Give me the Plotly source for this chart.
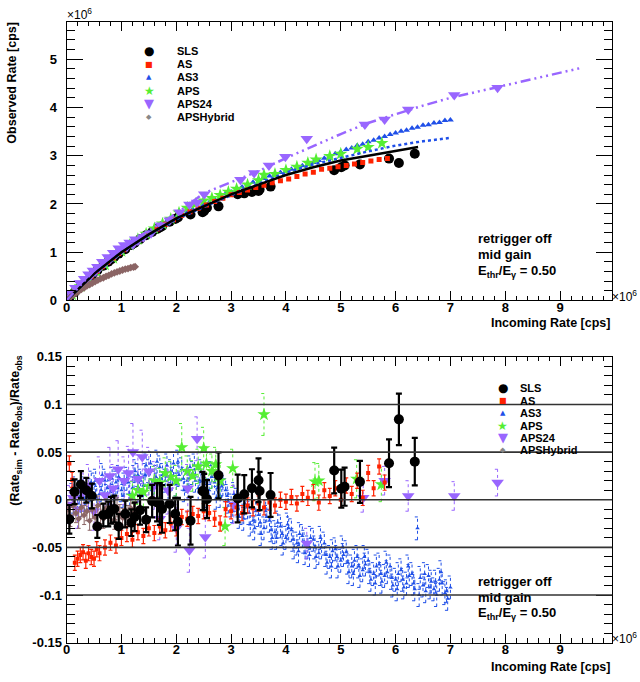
import plotly.graph_objects as go

# ---------------- data (rates in units of 1e6 cps) ----------------
# top panel: observed rate vs incoming rate
SLS_X = [0.05,0.145,0.26,0.36,0.46,0.56,0.67,0.76,0.81,0.87,0.95,1.07,1.18,1.24,1.34,1.45,1.56,1.65,1.70,1.74,
         1.88,1.98,2.03,2.26,2.48,2.51,2.56,2.77,3.12,3.24,3.38,3.50,3.52,3.72,4.88,5.01,5.07,5.35,5.88,6.06,6.35]
SLS_OBS = [0.06,0.17,0.30,0.41,0.51,0.62,0.72,0.80,0.85,0.90,0.97,1.06,1.15,1.19,1.27,1.35,1.42,1.48,1.51,1.54,
           1.63,1.69,1.72,1.78,1.83,1.86,1.92,1.95,2.20,2.22,2.25,2.27,2.30,2.36,2.70,2.76,2.80,2.82,2.94,2.85,3.04]

AS_X = [0.05,0.15,0.25,0.35,0.45,0.55,0.65,0.75,0.85,0.95,1.05,1.2,1.35,1.5,1.65,1.8,1.95,2.1,2.25,2.4,
        2.55,2.7,2.85,3.0,3.15,3.3,3.45,3.6,3.75,3.9,4.05,4.2,4.35,4.5,4.65,4.8,4.95,5.1,5.25,5.4,5.55,5.7,5.85]
AS_OBS = [0.06,0.18,0.29,0.40,0.50,0.60,0.70,0.79,0.88,0.97,1.05,1.16,1.28,1.38,1.48,1.58,1.67,1.76,1.84,1.91,
          1.98,2.05,2.12,2.19,2.24,2.29,2.34,2.39,2.44,2.48,2.52,2.57,2.62,2.66,2.72,2.74,2.77,2.80,2.83,2.86,2.89,2.92,2.94]

AS3_X = [0.1,0.2,0.3,0.4,0.5,0.6,0.7,0.8,0.9,1.0,1.1,1.2,1.3,1.4,1.5,1.6,1.7,1.8,1.9,2.0,
         2.1,2.2,2.3,2.4,2.5,2.6,2.7,2.8,2.9,3.0,3.1,3.2,3.3,3.4,3.5,3.6,3.7,3.8,3.9,4.0,
         4.1,4.2,4.3,4.4,4.5,4.6,4.7,4.8,4.9,5.0,5.1,5.2,5.3,5.4,5.5,5.6,5.7,5.8,5.9,6.0,
         6.1,6.2,6.3,6.4,6.5,6.6,6.7,6.8,6.9,7.0]
AS3_OBS = [0.12,0.24,0.35,0.46,0.55,0.66,0.74,0.84,0.93,1.02,1.10,1.17,1.26,1.33,1.41,1.47,1.54,1.60,1.67,1.72,
           1.78,1.83,1.89,1.93,1.99,2.03,2.10,2.14,2.21,2.25,2.31,2.35,2.41,2.45,2.51,2.53,2.58,2.61,2.65,2.68,
           2.72,2.75,2.79,2.82,2.86,2.90,2.95,2.99,3.04,3.08,3.13,3.16,3.21,3.24,3.29,3.32,3.37,3.40,3.44,3.47,
           3.51,3.53,3.57,3.59,3.63,3.64,3.68,3.69,3.73,3.74]

APS_X = [0.1,0.25,0.4,0.55,0.7,0.85,1.0,1.15,1.3,1.45,1.6,1.75,1.9,2.05,2.2,2.35,2.5,2.65,2.8,2.95,
         3.1,3.3,3.5,3.6,3.8,4.0,4.2,4.4,4.55,4.8,5.0,5.3,5.5,5.75]
APS_OBS = [0.12,0.29,0.45,0.60,0.74,0.88,1.02,1.15,1.27,1.38,1.49,1.59,1.69,1.82,1.92,2.00,2.07,2.12,2.18,2.25,
           2.31,2.40,2.49,2.60,2.62,2.70,2.77,2.85,2.92,2.99,3.04,3.14,3.18,3.26]

APS24_X = [0.05,0.12,0.2,0.28,0.36,0.44,0.52,0.6,0.7,0.8,0.9,1.0,1.1,1.21,1.3,1.4,1.54,1.72,1.88,2.06,
           2.24,2.38,2.51,3.17,3.42,3.69,3.99,4.38,5.44,5.8,6.23,7.07,7.86]
APS24_OBS = [0.07,0.16,0.26,0.35,0.44,0.52,0.60,0.68,0.78,0.87,0.96,1.05,1.11,1.16,1.24,1.31,1.39,1.56,1.66,1.83,
             1.99,2.03,2.20,2.50,2.64,2.80,2.98,3.35,3.65,3.75,3.96,4.26,4.41]
APS24_X_LOW = [0.08,0.16,0.24,0.32,0.40,0.48,0.56,0.65,0.75,0.85,0.95,1.05,1.15,1.25]
APS24_OBS_LOW = [0.15,0.26,0.36,0.45,0.54,0.62,0.70,0.80,0.90,0.99,1.08,1.15,1.20,1.27]

HYB_X = [0.02,0.07,0.12,0.17,0.22,0.27,0.32,0.37,0.42,0.47,0.52,0.57,0.62,0.67,0.72,0.77,0.82,0.87,0.92,0.97,
         1.02,1.07,1.12,1.17,1.22,1.25]
HYB_OBS = [0.02,0.07,0.11,0.15,0.19,0.23,0.26,0.30,0.33,0.36,0.39,0.42,0.45,0.47,0.50,0.52,0.55,0.57,0.59,0.61,
           0.63,0.65,0.66,0.68,0.69,0.70]

# simulation curves
SIM_AS3_X = [0,0.5,1,1.5,2,2.5,3,3.5,4,4.5,5,5.5,6,6.5,7.0]
SIM_AS3_Y = [0,0.55,1.0,1.36,1.68,1.94,2.18,2.42,2.65,2.82,2.96,3.09,3.21,3.30,3.37]
SIM_SLS_X = [0,0.5,1,1.5,2,2.5,3,3.5,4,4.5,5,5.5,6,6.41]
SIM_SLS_Y = [0,0.55,1.0,1.37,1.70,1.95,2.20,2.40,2.60,2.76,2.90,3.00,3.10,3.18]
SIM_APS24_X = [0,0.5,1,1.5,2,2.5,3,3.5,4,4.5,5,5.5,6,6.5,7,7.5,8,8.5,9,9.42]
SIM_APS24_Y = [0,0.62,1.10,1.45,1.80,2.22,2.45,2.68,2.95,3.20,3.45,3.68,3.86,4.04,4.20,4.33,4.45,4.58,4.71,4.83]

# bottom panel: (Rate_sim - Rate_obs)/Rate_obs
SLS_RES = [-0.0205,0.0085,0.016,0.0099,0.004,-0.028,-0.016,-0.015,-0.011,-0.0096,-0.028,-0.015,-0.024,-0.018,-0.011,
           -0.021,-0.0014,-0.0027,-0.0044,-0.0096,-0.0044,-0.015,-0.023,-0.022,0.0092,0.0082,0.0007,0.0256,0.0013,
           0.0058,0.012,0.0205,0.0092,0.0051,0.0307,0.0116,0.0137,0.0188,0.0383,0.0844,0.040]
SLS_ERR = [0.015,0.013,0.014,0.013,0.013,0.012,0.012,0.013,0.014,0.014,0.013,0.014,0.014,0.015,0.015,0.013,0.017,
           0.020,0.022,0.025,0.020,0.017,0.025,0.025,0.020,0.019,0.020,0.024,0.025,0.020,0.020,0.023,0.020,0.023,
           0.024,0.020,0.020,0.022,0.025,0.027,0.025]

AS_RES_X = [0.05,0.1,0.15,0.2,0.25,0.3,0.35,0.4,0.45,0.5,0.55,0.6,0.7,0.8,0.9,1.0,1.1,1.2,1.3,1.4,1.5,1.6,1.7,1.8,
            1.9,2.0,2.1,2.2,2.3,2.4,2.5,2.6,2.7,2.8,2.9,3.0,3.1,3.2,3.3,3.4,3.5,3.6,3.7,3.8,3.9,4.0,4.1,4.2,4.3,
            4.4,4.5,4.6,4.7,4.8,4.9,5.0,5.1,5.2,5.3,5.4,5.5,5.6,5.7,5.8]
AS_RES = [0.038,0.021,-0.066,-0.062,-0.058,-0.055,-0.064,-0.056,-0.060,-0.062,-0.052,-0.056,-0.050,-0.045,-0.048,
          -0.040,-0.036,-0.042,-0.034,-0.038,-0.030,-0.035,-0.028,-0.032,-0.025,-0.030,-0.018,-0.020,-0.015,-0.017,
          -0.012,-0.014,-0.020,-0.025,-0.010,-0.012,-0.008,-0.014,-0.006,-0.009,-0.004,-0.008,-0.003,-0.006,0.000,
          -0.002,0.003,-0.004,0.006,0.002,0.008,-0.003,0.010,0.004,0.012,0.000,0.015,0.006,0.020,0.002,0.028,0.012,
          0.035,0.018]
AS_ERR = [0.008] * len(AS_RES)

AS3_RES_X = AS3_X
AS3_RES = [0.005,-0.004,0.012,0.002,0.016,0.006,0.020,0.008,0.018,0.010,0.022,0.012,0.026,0.015,0.030,0.018,0.034,
           0.020,0.030,0.016,0.032,0.020,0.028,0.012,0.024,0.010,0.018,0.004,0.010,-0.006,0.000,-0.014,-0.008,-0.022,
           -0.016,-0.030,-0.022,-0.034,-0.028,-0.040,-0.032,-0.046,-0.038,-0.050,-0.042,-0.056,-0.046,-0.060,-0.052,
           -0.064,-0.055,-0.070,-0.060,-0.074,-0.064,-0.078,-0.068,-0.080,-0.070,-0.084,-0.074,-0.088,-0.078,-0.030,
           -0.090,-0.080,-0.094,-0.084,-0.098,-0.092]
AS3_RES_X2 = [0.15,0.25,0.35,0.45,0.55,0.65,0.75,0.85,0.95,1.05,1.15,1.25,1.35,1.45,1.55,1.65,1.75,1.85,1.95,2.05,
              2.15,2.25,2.35,2.45,2.55,2.65,2.75,2.85,2.95,3.05,3.15,3.25,3.35,3.45,3.55,3.65,3.75,3.85,3.95,4.05,
              4.15,4.25,4.35,4.45,4.55,4.65,4.75,4.85,4.95,5.05,5.15,5.25,5.35,5.45,5.55,5.65,5.75,5.85,5.95,6.05,
              6.15,6.25,6.35,6.45,6.55,6.65,6.75,6.85,6.95]
AS3_RES2 = [0.012,-0.008,0.006,0.018,0.002,0.026,0.012,0.004,0.024,0.016,0.006,0.030,0.020,0.036,0.010,0.040,0.026,
            0.012,0.038,0.026,0.010,0.034,0.020,0.030,0.004,0.024,0.012,0.016,-0.002,0.006,-0.018,-0.004,-0.026,-0.012,
            -0.036,-0.018,-0.040,-0.024,-0.046,-0.030,-0.050,-0.036,-0.056,-0.040,-0.060,-0.050,-0.066,-0.054,-0.070,
            -0.058,-0.076,-0.064,-0.080,-0.068,-0.084,-0.070,-0.086,-0.076,-0.090,-0.078,-0.092,-0.080,-0.094,-0.082,
            -0.096,-0.086,-0.100,-0.088,-0.104]
AS3_RES_X3 = [0.13,0.23,0.33,0.43,0.53,0.63,0.73,0.83,0.93,1.03,1.13,1.23,1.33,1.43,1.53,1.63,1.73,1.83,1.93,2.03,
              2.13,2.23,2.33,2.43,2.53,2.63,2.73,2.83,2.93,3.03,3.13,3.23,3.33,3.43,3.53,3.63,3.73,3.83,3.93,4.03,
              4.13,4.23,4.33,4.43,4.53,4.63,4.73,4.83,4.93,5.03,5.13,5.23,5.33,5.43,5.53,5.63,5.73,5.83,5.93,6.03,
              6.13,6.23,6.33,6.43,6.53,6.63,6.73,6.83,6.93]
AS3_RES3 = [-0.002,0.008,0.000,0.010,0.020,0.010,0.004,0.022,0.012,0.004,0.018,0.024,0.010,0.026,0.038,0.024,0.014,
            0.036,0.022,0.040,0.022,0.014,0.036,0.020,0.010,0.028,0.002,0.014,0.004,-0.012,-0.006,-0.020,-0.014,-0.030,
            -0.024,-0.012,-0.032,-0.040,-0.036,-0.026,-0.042,-0.054,-0.044,-0.058,-0.050,-0.040,-0.058,-0.070,-0.060,
            -0.050,-0.066,-0.078,-0.070,-0.060,-0.076,-0.088,-0.078,-0.066,-0.082,-0.094,-0.084,-0.070,-0.088,-0.100,
            -0.078,-0.092,-0.086,-0.076,-0.096]
AS3_ERR = 0.012

APS_RES_X = [1.2,1.3,1.4,1.5,1.6,1.7,1.8,1.9,2.0,2.1,2.2,2.3,2.4,2.5,2.55,2.65,2.72,2.8,2.89,3.03,3.6,4.53,4.6,5.29,5.74]
APS_RES = [0.004,0.010,0.008,0.014,0.020,0.018,0.028,0.024,0.020,0.055,0.030,0.025,0.035,0.054,0.038,0.030,0.037,
           0.020,-0.028,0.033,0.0895,0.019,0.020,0.022,0.016]
APS_ERR = [0.015,0.015,0.015,0.015,0.015,0.015,0.016,0.016,0.016,0.025,0.016,0.016,0.018,0.022,0.018,0.018,0.018,
           0.018,0.020,0.020,0.022,0.020,0.018,0.020,0.018]

APS24_RES_X = [0.05,0.12,0.2,0.3,0.4,0.5,0.6,0.7,0.79,0.85,0.94,1.05,1.13,1.21,1.3,1.38,1.5,1.6,1.7,1.85,
               2.0,2.21,2.24,2.38,2.53,3.05,4.38,5.41,5.8,6.23,7.07,7.86]
APS24_RES = [-0.005,0.002,-0.010,0.008,0.015,-0.012,0.020,0.005,0.025,0.012,0.032,0.020,0.028,0.050,0.022,0.045,
             0.030,0.015,-0.020,0.010,-0.030,0.012,-0.053,0.064,-0.039,-0.005,-0.046,0.002,0.020,0.004,0.004,0.018]
APS24_ERR = [0.020,0.020,0.020,0.020,0.022,0.020,0.025,0.020,0.030,0.025,0.030,0.025,0.028,0.030,0.025,0.028,
             0.025,0.025,0.022,0.025,0.025,0.025,0.023,0.023,0.022,0.020,0.016,0.015,0.015,0.016,0.015,0.014]

HYB_RES = [-0.010,-0.018,-0.006,-0.014,-0.020,-0.008,-0.016,-0.012,-0.022,-0.010,-0.018,-0.006,-0.015,-0.020,
           -0.009,-0.017,-0.012,-0.021,-0.008,-0.015,-0.019,-0.011,-0.016,-0.009,-0.014,-0.012]
HYB_ERR = 0.010

REF_LEVELS = [-0.1, -0.05, 0.0, 0.05, 0.1]

X_TICKS = [0, 1, 2, 3, 4, 5, 6, 7, 8, 9]
Y_TOP_TICKS = [0, 1, 2, 3, 4, 5]
Y_BOT_TICKS = [-0.15, -0.1, -0.05, 0, 0.05, 0.1, 0.15]
Y_BOT_LABELS = ["-0.15", "-0.1", "-0.05", "0", "0.05", "0.1", "0.15"]

SERIES = ["SLS", "AS", "AS3", "APS", "APS24", "APSHybrid"]

# ---------------- style ----------------
W, H = 640, 682
FONT = "Liberation Sans"
C = {"SLS": "#000000", "AS": "#ff2200", "AS3": "#1f4fe8", "APS": "#55ee33",
     "APS24": "#9966ff", "APSHybrid": "#8b6565"}
GLYPH = {"SLS": ("●", 12), "AS": ("■", 8), "AS3": ("▲", 7), "APS": ("★", 12),
         "APS24": ("▼", 13), "APSHybrid": ("◆", 7)}
CAP = 0.05


def px(xp):
    return xp / W


def py(yp):
    return 1 - yp / H


def err_segments(xs, ys, es):
    sx, sy = [], []
    for x, y, e in zip(xs, ys, es):
        sx += [x, x, None, x - CAP, x + CAP, None, x - CAP, x + CAP, None]
        sy += [y - e, y + e, None, y - e, y - e, None, y + e, y + e, None]
    return sx, sy


def pts(xs, ys):
    n = min(len(xs), len(ys))
    return list(xs[:n]), list(ys[:n])


fig = go.Figure()


def mk(name, symbol, size, xa, ya, xs, ys, error=None):
    x, y = pts(xs, ys)
    tr = go.Scatter(x=x, y=y, mode="markers", name=name, showlegend=False,
                    xaxis=xa, yaxis=ya,
                    marker=dict(symbol=symbol, size=size, color=C[name], line=dict(width=0)))
    if error is not None:
        tr.update(error_y=error)
    fig.add_trace(tr)


def dotted_err(name, xs, ys, es):
    n = min(len(xs), len(ys))
    ee = es if isinstance(es, list) else [es] * n
    sx, sy = err_segments(xs[:n], ys[:n], ee[:n])
    fig.add_trace(go.Scatter(x=sx, y=sy, mode="lines", showlegend=False, xaxis="x2", yaxis="y2",
                             line=dict(color=C[name], width=1, dash="dot"), hoverinfo="skip"))


# ---- top panel ----
mk("SLS", "circle", 10, "x", "y", SLS_X, SLS_OBS)
mk("AS3", "triangle-up", 6, "x", "y", AS3_X, AS3_OBS)
mk("APS", "star", 10, "x", "y", APS_X, APS_OBS)
mk("AS", "square", 5, "x", "y", AS_X, AS_OBS)
mk("APS24", "triangle-down", 11, "x", "y", APS24_X_LOW, APS24_OBS_LOW)
mk("APS24", "triangle-down", 11, "x", "y", APS24_X, APS24_OBS)
mk("APSHybrid", "diamond", 6, "x", "y", HYB_X, HYB_OBS)
fig.add_trace(go.Scatter(x=SIM_AS3_X, y=SIM_AS3_Y, mode="lines", showlegend=False, xaxis="x", yaxis="y",
                         line=dict(color=C["AS3"], width=2.5, dash="dot")))
fig.add_trace(go.Scatter(x=SIM_SLS_X, y=SIM_SLS_Y, mode="lines", showlegend=False, xaxis="x", yaxis="y",
                         line=dict(color=C["SLS"], width=2.5)))
fig.add_trace(go.Scatter(x=SIM_APS24_X, y=SIM_APS24_Y, mode="lines", showlegend=False, xaxis="x", yaxis="y",
                         line=dict(color=C["APS24"], width=2.5, dash="10px,4px,2px,4px,2px,4px,2px,4px")))

# ---- bottom panel ----
dotted_err("AS3", AS3_RES_X, AS3_RES, AS3_ERR)
dotted_err("AS3", AS3_RES_X2, AS3_RES2, AS3_ERR)
dotted_err("AS3", AS3_RES_X3, AS3_RES3, AS3_ERR)
mk("AS3", "triangle-up", 4, "x2", "y2", AS3_RES_X, AS3_RES)
mk("AS3", "triangle-up", 4, "x2", "y2", AS3_RES_X2, AS3_RES2)
mk("AS3", "triangle-up", 4, "x2", "y2", AS3_RES_X3, AS3_RES3)
dotted_err("APS", APS_RES_X, APS_RES, APS_ERR)
mk("APS", "star", 10, "x2", "y2", APS_RES_X, APS_RES)
dotted_err("APS24", APS24_RES_X, APS24_RES, APS24_ERR)
mk("APS24", "triangle-down", 11, "x2", "y2", APS24_RES_X, APS24_RES)
mk("APSHybrid", "diamond", 5, "x2", "y2", HYB_X, HYB_RES,
   dict(type="constant", value=HYB_ERR, color=C["APSHybrid"], thickness=1, width=2))
mk("AS", "square", 4, "x2", "y2", AS_RES_X, AS_RES,
   dict(type="data", array=AS_ERR, color=C["AS"], thickness=1.2, width=2))
mk("SLS", "circle", 10, "x2", "y2", SLS_X, SLS_RES,
   dict(type="data", array=SLS_ERR, color="black", thickness=2.2, width=3))

# reference lines
for lv in REF_LEVELS:
    fig.add_shape(type="line", xref="x2 domain", yref="y2", x0=0, x1=1, y0=lv, y1=lv,
                  line=dict(color="#333333", width=1.6), layer="above")

# ---------------- axes ----------------
XDOM = [px(63), px(612)]
TOPDOM = [py(300), py(15)]
BOTDOM = [py(650), py(357.7)]
tickfont = dict(family=FONT, size=13, color="black", weight="bold")


def axis(domain, rng, anchor, tickvals, ticktext, ticklen, minor_len, minor_dt, standoff):
    return dict(domain=domain, range=rng, anchor=anchor, showline=True, linecolor="black", linewidth=1,
                mirror="ticks", ticks="inside", ticklen=ticklen, tickwidth=1, tickcolor="black",
                tickmode="array", tickvals=tickvals, ticktext=ticktext, tickfont=tickfont,
                showgrid=False, zeroline=False, ticklabelstandoff=standoff,
                minor=dict(ticks="inside", ticklen=minor_len, dtick=minor_dt, tick0=0,
                           tickcolor="black", tickwidth=1, showgrid=False))


fig.update_layout(
    width=W, height=H, margin=dict(l=0, r=0, t=0, b=0),
    paper_bgcolor="white", plot_bgcolor="white", showlegend=False,
    xaxis=axis(XDOM, [0, 9.95], "y", X_TICKS, [str(v) for v in X_TICKS], 9, 4.5, 0.2, -5),
    yaxis=axis(TOPDOM, [0, 5.78], "x", Y_TOP_TICKS, [str(v) for v in Y_TOP_TICKS], 16, 8, 0.2, 6),
    xaxis2=axis(XDOM, [0, 9.95], "y2", X_TICKS, [str(v) for v in X_TICKS], 9, 4.5, 0.2, -5),
    yaxis2=axis(BOTDOM, [-0.15, 0.15], "x2", Y_BOT_TICKS, Y_BOT_LABELS, 16, 8, 0.01, 1),
)

# ---------------- text ----------------
ann = []


def text(x, y, s, size, xanchor="left", yanchor="middle", angle=0, weight="bold"):
    ann.append(dict(x=px(x), y=py(y), xref="paper", yref="paper", text=s, showarrow=False,
                    xanchor=xanchor, yanchor=yanchor, textangle=angle,
                    font=dict(family=FONT, size=size, color="black", weight=weight)))


# axis titles
text(612, 314, "Incoming Rate [cps]", 12.5, xanchor="right", yanchor="top")
text(612, 666, "Incoming Rate [cps]", 12.5, xanchor="right", yanchor="top")
text(8, 13, "Observed Rate [cps]", 12.5, xanchor="center", yanchor="top", angle=-90)
text(12, 353, "(Rate<sub>sim</sub> - Rate<sub>obs</sub>)/Rate<sub>obs</sub>", 12.5,
     xanchor="center", yanchor="top", angle=-90)
# exponent labels
text(61, 7, "×10<sup>6</sup>", 12, weight="normal")
text(639, 295, "×10<sup>6</sup>", 12, xanchor="right", weight="normal")
text(639, 645, "×10<sup>6</sup>", 12, xanchor="right", weight="normal")
# info blocks
for y0 in (237, 587):
    text(475, y0, "retrigger off", 13)
    text(475, y0 + 16.5, "mid gain", 13)
    text(475, y0 + 33, "E<sub>thr</sub>/E<sub>γ</sub> = 0.50", 13)

# legends (glyph + label)
for i, name in enumerate(SERIES):
    g, gs = GLYPH[name]
    for (mx, tx, y0, dy) in ((146, 172, 45, 13.5), (502, 517, 390, 12.65)):
        yy = y0 + i * dy
        ann.append(dict(x=px(mx), y=py(yy), xref="paper", yref="paper", text=g, showarrow=False,
                        xanchor="center", yanchor="middle",
                        font=dict(family="DejaVu Sans", size=gs,
                                  color=C[name] if name != "APSHybrid" else "#888888")))
        text(tx, yy, name, 11)

fig.update_layout(annotations=ann)
fig.write_html("out.html", config={"displayModeBar": False},
               post_script="document.body.style.margin='0px';")
